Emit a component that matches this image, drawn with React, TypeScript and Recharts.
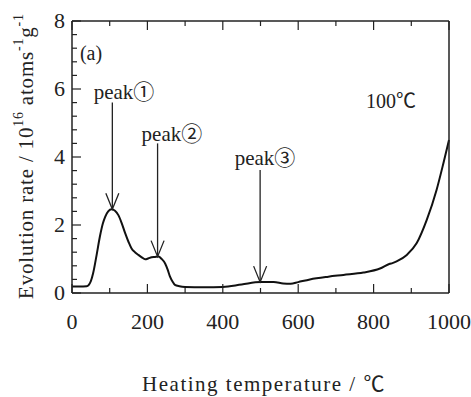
import React from "react";
import {
  LineChart,
  Line,
  XAxis,
  YAxis,
  ReferenceLine,
  ReferenceDot,
} from "recharts";

const temps = [
  0, 20, 39, 50, 56, 65, 74, 82, 88, 96, 105, 114, 123, 132, 141, 150, 158,
  167, 176, 185, 194, 203, 211, 220, 229, 238, 247, 254, 260, 267, 273, 285,
  300, 350, 400, 450, 500, 535, 560, 580, 600, 631, 680, 720, 773, 817, 843,
  850, 861, 888, 914, 941, 967, 985, 1000,
];
const rates = [
  0.19, 0.19, 0.2, 0.35, 0.58, 1.1, 1.66, 2.05, 2.24, 2.4, 2.46, 2.42, 2.29,
  2.05, 1.76, 1.5, 1.31, 1.2, 1.12, 1.05, 0.99, 1.02, 1.05, 1.06, 1.07, 1.0,
  0.87, 0.68, 0.48, 0.33, 0.24, 0.2, 0.18, 0.17, 0.18, 0.25, 0.32, 0.32, 0.28,
  0.27, 0.32, 0.4, 0.48, 0.53, 0.6, 0.72, 0.86, 0.88, 0.93, 1.12, 1.46, 2.15,
  3.03, 3.81, 4.5,
];

const xTicks = [0, 100, 200, 300, 400, 500, 600, 700, 800, 900, 1000];
const xLabels = [0, 200, 400, 600, 800, 1000];
const yTicks = [
  0, 0.4, 0.8, 1.2, 1.6, 2, 2.4, 2.8, 3.2, 3.6, 4, 4.4, 4.8, 5.2, 5.6, 6, 6.4,
  6.8, 7.2, 7.6, 8,
];
const yLabels = [0, 2, 4, 6, 8];

// arrows: x, from y (top), to y (peak)
const peakNames = ["peak①", "peak②", "peak③"];
const peakX = [107, 227, 499];
const arrowTop = [5.6, 4.4, 3.62];
const arrowTip = [2.46, 1.07, 0.32];
const labelX = [138, 265, 512];
const labelY = [5.72, 4.47, 3.76];

const data = temps.map((t, i) => ({ t, r: rates[i] }));

const FONT = "'Liberation Serif', 'Noto Sans CJK JP', serif";
const INK = "#222";

const isMajor = (v: number, list: number[]) =>
  list.some((m) => Math.abs(m - v) < 1e-6);

function BottomTick({ x, y, payload }: any) {
  const major = isMajor(payload.value, xLabels);
  return (
    <g>
      <line x1={x} y1={y} x2={x} y2={y - (major ? 9 : 5)} stroke={INK} strokeWidth={1.2} />
      {major && (
        <text x={x} y={y + 36} textAnchor="middle" fontFamily={FONT} fontSize={22} fill={INK}>
          {payload.value}
        </text>
      )}
    </g>
  );
}

function TopTick({ x, y, payload }: any) {
  const major = isMajor(payload.value, xLabels);
  return <line x1={x} y1={y} x2={x} y2={y + (major ? 9 : 5)} stroke={INK} strokeWidth={1.2} />;
}

function LeftTick({ x, y, payload }: any) {
  const major = isMajor(payload.value, yLabels);
  return (
    <g>
      <line x1={x} y1={y} x2={x + (major ? 9 : 5)} y2={y} stroke={INK} strokeWidth={1.2} />
      {major && (
        <text x={x - 7} y={y + 7} textAnchor="end" fontFamily={FONT} fontSize={22} fill={INK}>
          {payload.value}
        </text>
      )}
    </g>
  );
}

function RightTick({ x, y, payload }: any) {
  const major = isMajor(payload.value, yLabels);
  return <line x1={x} y1={y} x2={x - (major ? 9 : 5)} y2={y} stroke={INK} strokeWidth={1.2} />;
}

function Arrow({ x1, y1, x2, y2 }: any) {
  return (
    <g stroke={INK} strokeWidth={1.3} fill="none">
      <line x1={x1} y1={y1} x2={x2} y2={y2} />
      <polyline points={`${x2 - 6.5},${y2 - 16} ${x2},${y2} ${x2 + 6.5},${y2 - 16}`} />
    </g>
  );
}

const textShape =
  (txt: string, anchor: "start" | "middle" | "end", size: number) =>
  ({ cx, cy }: any) =>
    (
      <text x={cx} y={cy} textAnchor={anchor} fontFamily={FONT} fontSize={size} fill={INK}>
        {txt}
      </text>
    );

function YTitle() {
  const cx = 26;
  const cy = 156;
  return (
    <text
      x={cx}
      y={cy}
      transform={`rotate(-90 ${cx} ${cy})`}
      textAnchor="middle"
      dominantBaseline="central"
      fontFamily={FONT}
      fontSize={21}
      fill={INK}
      letterSpacing={0.8}
    >
      Evolution rate / 10
      <tspan dy={-8} fontSize={14}>16</tspan>
      <tspan dy={8}> atoms</tspan>
      <tspan dy={-8} fontSize={14}>-1</tspan>
      <tspan dy={8}>g</tspan>
      <tspan dy={-8} fontSize={14}>-1</tspan>
    </text>
  );
}

function XTitle() {
  return (
    <text x={264} y={391} textAnchor="middle" fontFamily={FONT} fontSize={21} fill={INK} letterSpacing={1.5}>
      Heating temperature / ℃
    </text>
  );
}

export default function App() {
  return (
    <div style={{ position: "absolute", left: 0, top: 0, background: "#fff" }}>
      <LineChart
        width={471}
        height={397}
        data={data}
        margin={{ top: 20, right: 21, bottom: 103, left: 71 }}
      >
        <XAxis
          xAxisId="b"
          dataKey="t"
          type="number"
          domain={[0, 1000]}
          ticks={xTicks}
          interval={0}
          height={1}
          tickSize={0}
          tickMargin={0}
          tickLine={false}
          tick={<BottomTick />}
          axisLine={{ stroke: INK, strokeWidth: 1.5 }}
          label={<XTitle />}
        />
        <XAxis
          xAxisId="t"
          dataKey="t"
          type="number"
          orientation="top"
          domain={[0, 1000]}
          ticks={xTicks}
          interval={0}
          height={1}
          tickSize={0}
          tickMargin={0}
          tickLine={false}
          tick={<TopTick />}
          axisLine={{ stroke: INK, strokeWidth: 1.5 }}
        />
        <YAxis
          yAxisId="l"
          type="number"
          domain={[0, 8]}
          ticks={yTicks}
          interval={0}
          width={1}
          tickSize={0}
          tickMargin={0}
          tickLine={false}
          tick={<LeftTick />}
          axisLine={{ stroke: INK, strokeWidth: 1.5 }}
          label={<YTitle />}
        />
        <YAxis
          yAxisId="r"
          orientation="right"
          type="number"
          domain={[0, 8]}
          ticks={yTicks}
          interval={0}
          width={1}
          tickSize={0}
          tickMargin={0}
          tickLine={false}
          tick={<RightTick />}
          axisLine={{ stroke: INK, strokeWidth: 1.5 }}
        />
        <Line
          xAxisId="b"
          yAxisId="l"
          dataKey="r"
          type="monotone"
          stroke="#111"
          strokeWidth={2}
          dot={false}
          isAnimationActive={false}
        />
        {peakX.map((px, i) => (
          <ReferenceLine
            key={`a${i}`}
            xAxisId="b"
            yAxisId="l"
            segment={[
              { x: px, y: arrowTop[i] },
              { x: px, y: arrowTip[i] },
            ]}
            shape={<Arrow />}
          />
        ))}
        {peakNames.map((n, i) => (
          <ReferenceDot
            key={`p${i}`}
            xAxisId="b"
            yAxisId="l"
            x={labelX[i]}
            y={labelY[i]}
            r={0}
            shape={textShape(n, "middle", 21)}
          />
        ))}
        <ReferenceDot xAxisId="b" yAxisId="l" x={21} y={6.85} r={0} shape={textShape("(a)", "start", 20)} />
        <ReferenceDot xAxisId="b" yAxisId="l" x={780} y={5.44} r={0} shape={textShape("100℃", "start", 20)} />
      </LineChart>
    </div>
  );
}
